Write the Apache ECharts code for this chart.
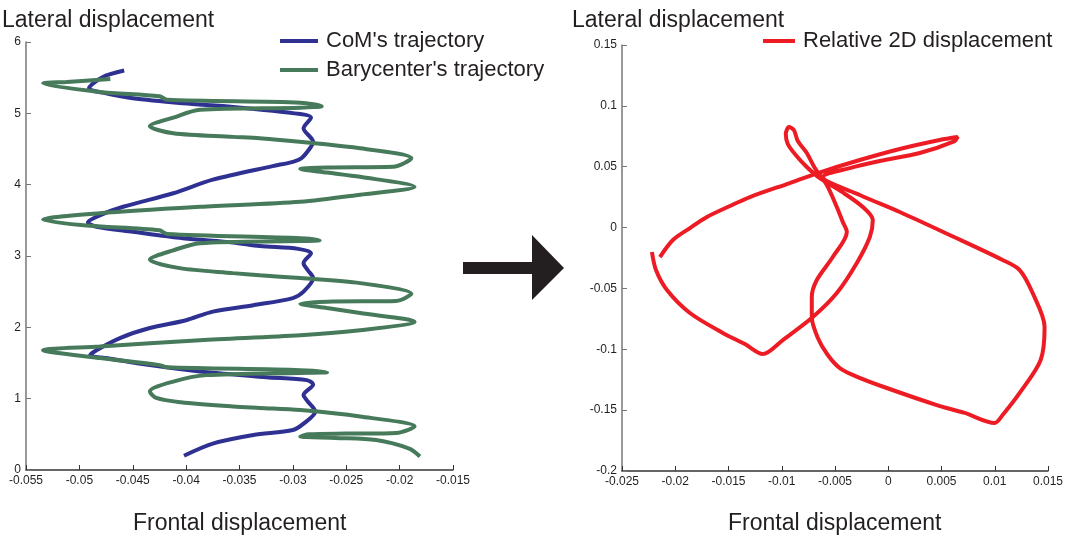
<!DOCTYPE html>
<html>
<head>
<meta charset="utf-8">
<script src="https://cdn.jsdelivr.net/npm/echarts@6/dist/echarts.min.js"></script>
<style>
  html, body {margin: 0; padding: 0; background: #fff;}
  #main {width: 1068px; height: 535px;}
</style>
</head>
<body>
<div id="main"></div>
<script>
// left panel: CoM trajectory [frontal, lateral]
const comTrajectory = [
  [-0.0402, 0.20], [-0.0375, 0.37], [-0.0337, 0.49], [-0.0300, 0.56], [-0.0290, 0.65],
  [-0.0279, 0.82], [-0.0286, 0.96], [-0.0290, 1.05], [-0.0281, 1.20], [-0.0287, 1.26],
  [-0.0325, 1.30], [-0.0387, 1.38], [-0.0434, 1.47], [-0.0471, 1.56], [-0.0490, 1.61],
  [-0.0484, 1.68], [-0.0462, 1.85], [-0.0434, 1.99], [-0.0400, 2.10], [-0.0375, 2.22],
  [-0.0337, 2.31], [-0.0300, 2.41], [-0.0290, 2.50], [-0.0281, 2.69], [-0.0286, 2.80],
  [-0.0290, 2.90], [-0.0283, 3.04], [-0.0295, 3.10], [-0.0331, 3.14], [-0.0356, 3.19],
  [-0.0403, 3.25], [-0.0450, 3.34], [-0.0484, 3.41], [-0.0492, 3.47], [-0.0481, 3.57],
  [-0.0459, 3.69], [-0.0412, 3.88], [-0.0375, 4.07], [-0.0319, 4.26], [-0.0300, 4.32],
  [-0.0292, 4.37], [-0.0284, 4.51], [-0.0281, 4.60], [-0.0290, 4.79], [-0.0283, 4.94],
  [-0.0293, 4.99], [-0.0356, 5.09], [-0.0403, 5.14], [-0.0450, 5.21], [-0.0478, 5.29],
  [-0.0491, 5.35], [-0.0478, 5.51], [-0.0458, 5.60]
];
// left panel: barycenter trajectory
const baryTrajectory = [
  [-0.0181, 0.19], [-0.0191, 0.30], [-0.0222, 0.42], [-0.0260, 0.45], [-0.0293, 0.47],
  [-0.0285, 0.50], [-0.0250, 0.51], [-0.0203, 0.52], [-0.0186, 0.61], [-0.0237, 0.75],
  [-0.0293, 0.84], [-0.0331, 0.87], [-0.0356, 0.89], [-0.0405, 0.95], [-0.0428, 1.01],
  [-0.0434, 1.10], [-0.0412, 1.24], [-0.0381, 1.33], [-0.0293, 1.36], [-0.0268, 1.37],
  [-0.0293, 1.40], [-0.0418, 1.44], [-0.0425, 1.47], [-0.0481, 1.57], [-0.0534, 1.68],
  [-0.0481, 1.73], [-0.0387, 1.82], [-0.0293, 1.89], [-0.0237, 1.96], [-0.0186, 2.08],
  [-0.0237, 2.20], [-0.0268, 2.27], [-0.0293, 2.33], [-0.0268, 2.36], [-0.0203, 2.37],
  [-0.0189, 2.47], [-0.0237, 2.62], [-0.0293, 2.69], [-0.0331, 2.73], [-0.0356, 2.76],
  [-0.0406, 2.83], [-0.0434, 2.95], [-0.0412, 3.08], [-0.0387, 3.18], [-0.0293, 3.21],
  [-0.0275, 3.22], [-0.0293, 3.25], [-0.0418, 3.31], [-0.0425, 3.36], [-0.0496, 3.43],
  [-0.0534, 3.51], [-0.0481, 3.60], [-0.0387, 3.69], [-0.0293, 3.76], [-0.0237, 3.86],
  [-0.0186, 3.97], [-0.0237, 4.11], [-0.0268, 4.17], [-0.0293, 4.22], [-0.0268, 4.24],
  [-0.0206, 4.25], [-0.0189, 4.37], [-0.0237, 4.51], [-0.0331, 4.65], [-0.0356, 4.67],
  [-0.0412, 4.72], [-0.0434, 4.82], [-0.0412, 4.94], [-0.0387, 5.05], [-0.0293, 5.08],
  [-0.0273, 5.10], [-0.0293, 5.15], [-0.0418, 5.19], [-0.0425, 5.24], [-0.0481, 5.30],
  [-0.0534, 5.42], [-0.0512, 5.44], [-0.0471, 5.48]
];
// right panel: relative 2D displacement
const relDisplacement = [
  [-0.02144, -0.0242], [-0.02022, -0.0102], [-0.01862, -0.0004], [-0.01703, 0.0087],
  [-0.01487, 0.0177], [-0.01299, 0.0251], [-0.00924, 0.0366], [-0.00661, 0.0448],
  [-0.00267, 0.0555], [0.00108, 0.0646], [0.00483, 0.0720], [0.00652, 0.0744],
  [0.00624, 0.0711], [0.00296, 0.0613], [-0.00080, 0.0547], [-0.00361, 0.0489],
  [-0.00614, 0.0416], [-0.00267, 0.0268], [0.00108, 0.0128], [0.00577, -0.0061],
  [0.01074, -0.0266], [0.01234, -0.0349], [0.01356, -0.0538], [0.01468, -0.0817],
  [0.01431, -0.1088], [0.01234, -0.1359], [0.01074, -0.1540], [0.00999, -0.1606],
  [0.00718, -0.1523], [0.00455, -0.1458], [-0.00014, -0.1318], [-0.00286, -0.1228],
  [-0.00455, -0.1154], [-0.00568, -0.1047], [-0.00661, -0.0907], [-0.00718, -0.0735],
  [-0.00718, -0.0570], [-0.00671, -0.0431], [-0.00521, -0.0242], [-0.00389, -0.0036],
  [-0.00427, 0.0046], [-0.00483, 0.0169], [-0.00577, 0.0350], [-0.00689, 0.0489],
  [-0.00765, 0.0613], [-0.00849, 0.0711], [-0.00886, 0.0802], [-0.00933, 0.0826],
  [-0.00962, 0.0769], [-0.00943, 0.0687], [-0.00877, 0.0605], [-0.00765, 0.0498],
  [-0.00643, 0.0407], [-0.00408, 0.0278], [-0.00239, 0.0169], [-0.00145, 0.0062],
  [-0.00173, -0.0078], [-0.00295, -0.0291], [-0.00483, -0.0538], [-0.00708, -0.0735],
  [-0.00990, -0.0924], [-0.01177, -0.1039], [-0.01346, -0.0957], [-0.01553, -0.0866],
  [-0.01862, -0.0702], [-0.02078, -0.0513], [-0.02181, -0.0349], [-0.02219, -0.0201]
];

const leftXTicks = {min: -0.055, max: -0.015, interval: 0.005};
const leftYTicks = {min: 0, max: 6, interval: 1};
const rightXTicks = {min: -0.025, max: 0.015, interval: 0.005};
const rightYTicks = {min: -0.2, max: 0.15, interval: 0.05};

const font = 'Liberation Sans, Arial, sans-serif';
const textColor = '#231f20';
const chart = echarts.init(document.getElementById('main'));

const axisCommon = (ticks, lineColor) => ({
  type: 'value',
  min: ticks.min,
  max: ticks.max,
  interval: ticks.interval,
  splitLine: {show: false},
  axisLine: {show: true, onZero: false, lineStyle: {color: lineColor, width: 1.5}},
  axisTick: {show: true, inside: true, length: 5, lineStyle: {color: lineColor}},
  axisLabel: {color: textColor, fontSize: 12, fontFamily: font, margin: 5}
});
const titleStyle = {fontSize: 23, fontWeight: 'normal', color: textColor, fontFamily: font};

chart.setOption({
  animation: false,
  backgroundColor: '#fff',
  title: [
    {text: 'Lateral displacement', left: -3, top: 4, textStyle: titleStyle},
    {text: 'Frontal displacement', left: 128, top: 507, textStyle: titleStyle},
    {text: 'Lateral displacement', left: 567, top: 4, textStyle: titleStyle},
    {text: 'Frontal displacement', left: 723, top: 507, textStyle: titleStyle}
  ],
  legend: [
    {
      data: ["CoM's trajectory", "Barycenter's trajectory"],
      orient: 'vertical', left: 275, top: 25, itemGap: 7,
      icon: 'rect', itemWidth: 38, itemHeight: 4,
      textStyle: {fontSize: 22, color: textColor, fontFamily: font, padding: [0, 0, 0, 3]}
    },
    {
      data: ['Relative 2D displacement'],
      left: 758, top: 25,
      icon: 'rect', itemWidth: 32, itemHeight: 4,
      textStyle: {fontSize: 22, color: textColor, fontFamily: font, padding: [0, 0, 0, 3]}
    }
  ],
  grid: [
    {left: 26, top: 42, width: 427, height: 428},
    {left: 622, top: 45, width: 426, height: 426}
  ],
  xAxis: [
    Object.assign(axisCommon(leftXTicks, '#333'), {gridIndex: 0}),
    Object.assign(axisCommon(rightXTicks, '#333'), {gridIndex: 1})
  ],
  yAxis: [
    Object.assign(axisCommon(leftYTicks, '#777'), {gridIndex: 0}),
    Object.assign(axisCommon(rightYTicks, '#777'), {gridIndex: 1})
  ],
  series: [
    {
      name: "CoM's trajectory", type: 'line', xAxisIndex: 0, yAxisIndex: 0,
      data: comTrajectory, showSymbol: false, smooth: 0.3,
      color: '#2e3192', lineStyle: {width: 4, color: '#2e3192'}
    },
    {
      name: "Barycenter's trajectory", type: 'line', xAxisIndex: 0, yAxisIndex: 0,
      data: baryTrajectory, showSymbol: false, smooth: 0.3,
      color: '#467a5b', lineStyle: {width: 4, color: '#467a5b'}
    },
    {
      name: 'Relative 2D displacement', type: 'line', xAxisIndex: 1, yAxisIndex: 1,
      data: relDisplacement, showSymbol: false, smooth: 0.3,
      color: '#ed1c24', lineStyle: {width: 4, color: '#ed1c24'}
    }
  ],
  graphic: [
    {
      type: 'polygon',
      shape: {points: [[463, 262], [532, 262], [532, 235], [564, 268], [532, 300], [532, 274], [463, 274]]},
      style: {fill: '#231f20'}
    }
  ]
});
</script>
</body>
</html>
